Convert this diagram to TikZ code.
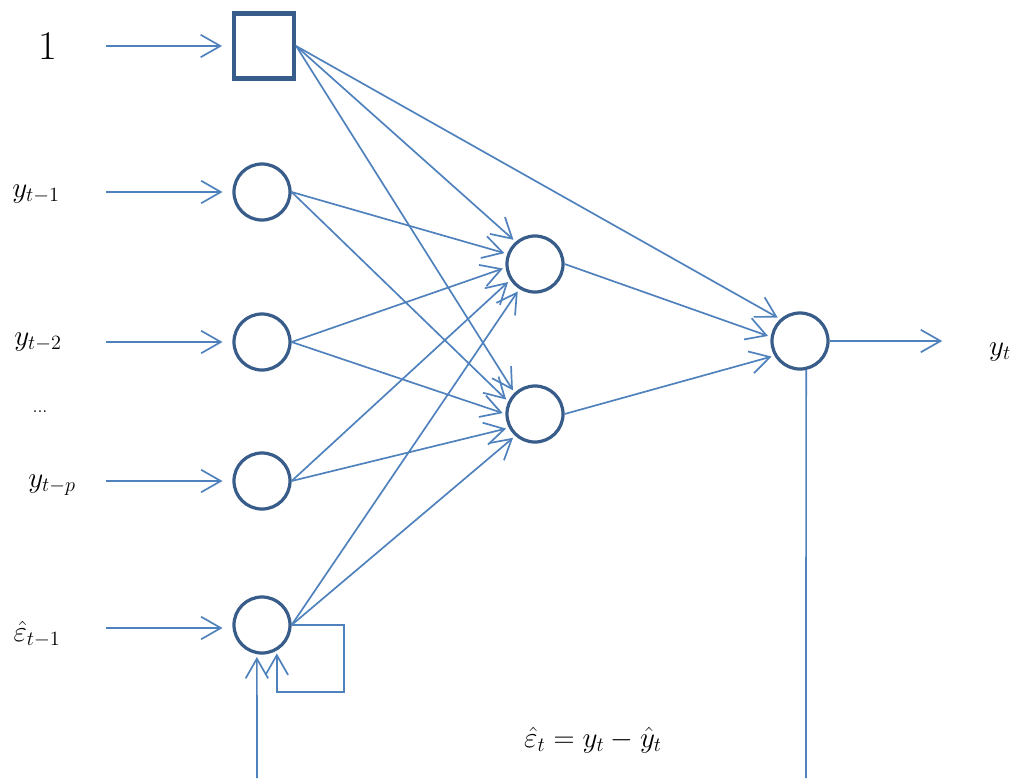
\documentclass[tikz,border=0pt]{standalone}
\usetikzlibrary{arrows.meta,calc}
\definecolor{nnline}{RGB}{79,129,189}
\definecolor{nnedge}{RGB}{56,93,138}

\begin{document}
\begin{tikzpicture}[x=0.025cm,y=-0.025cm,
  unit/.style={draw=nnedge,circle,line width=2.3pt,minimum size=1.4cm,inner sep=0pt},
  bias/.style={draw=nnedge,line width=3pt,minimum width=1.5cm,minimum height=1.62cm,inner sep=0pt},
  arr/.style={-{Straight Barb[length=14pt,width=16pt]},nnline,line width=1.2pt,shorten >=2pt},
  wire/.style={nnline,line width=1.2pt},
  lbl/.style={font=\fontsize{21}{25}\selectfont}]
  \useasboundingbox (0,0) rectangle (1014,778);
  % Input layer
  \node[bias] (b) at (264,46) {};
  \node[unit] (x1) at (262,192) {};
  \node[unit] (x2) at (262,342) {};
  \node[unit] (xp) at (262,481) {};
  \node[unit] (e) at (262,625) {};
  % Hidden layer
  \node[unit] (h1) at (535,264) {};
  \node[unit] (h2) at (535,414) {};
  % Output
  \node[unit] (o) at (800,341) {};
  % Input labels
  \node[font=\fontsize{29}{32}\selectfont] (l0) at (48,46) {1};
  \node[lbl] (l1) at (36,194) {$y_{t-1}$};
  \node[lbl] (l2) at (38,342) {$y_{t-2}$};
  \node[font=\fontsize{13}{15}\selectfont] (ld) at (40,412) {...};
  \node[lbl] (lp) at (52,485) {$y_{t-p}$};
  \node[lbl] (le) at (37,634) {$\hat{\varepsilon}_{t-1}$};
  \node[lbl] (ly) at (1000,352) {$y_t$};
  \node[font=\fontsize{20}{24}\selectfont] (eq) at (593,740) {$\hat{\varepsilon}_t = y_t - \hat{y}_t$};
  % Input arrows
  \foreach \n/\y in {b/46,x1/192,x2/342,xp/481,e/628}{
    \coordinate (s\n) at (106,\y);
    \draw[arr,shorten >=7pt] (s\n) -- (s\n -| \n.west);
  }
  % Input to hidden
  \foreach \s/\a in {b/131,x1/160,x2/187,xp/213,e/238}
    \draw[arr] (\s.east) -- (h1.\a);
  \foreach \s/\a in {b/134,x1/155,x2/180,xp/208,e/228}
    \draw[arr] (\s.east) -- (h2.\a);
  % Hidden to output
  \draw[arr] (b.east) -- (o.132);
  \draw[arr] (h1.east) -- (o.172);
  \draw[arr] (h2.east) -- (o.210);
  % Output arrow
  \coordinate (yo) at (945,341);
  \draw[arr] (o.east) -- (yo);
  % Error feedback
  \coordinate (ob) at (806,778);
  \draw[wire] (o.282) -- (ob);
  \coordinate (eb) at (257,778);
  \draw[arr] (eb) -- (e.260);
  \coordinate (fb) at (344,692);
  \draw[arr] (e.east) -| (fb) -| (e.300);
\end{tikzpicture}
\end{document}
